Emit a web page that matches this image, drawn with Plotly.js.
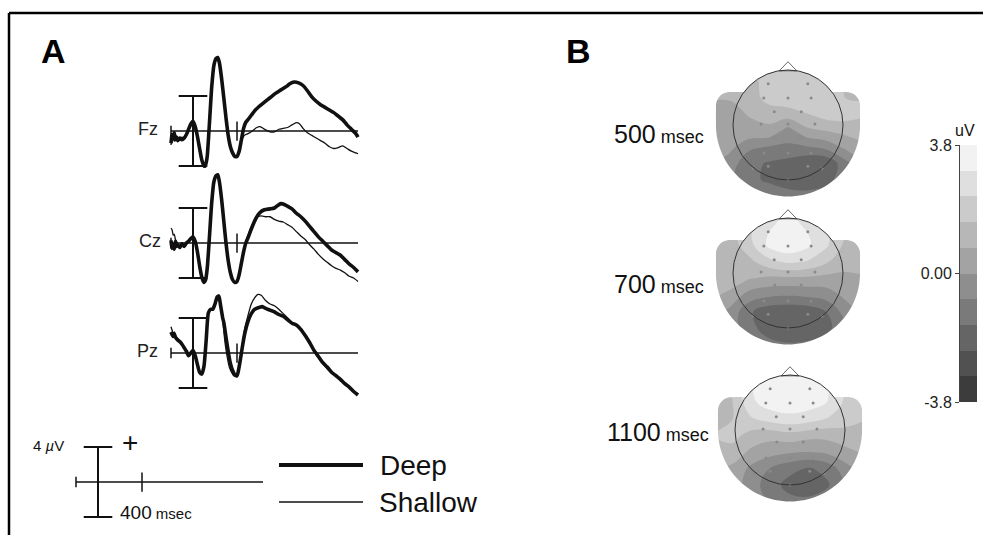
<!DOCTYPE html>
<html><head><meta charset="utf-8">
<script src="https://cdn.plot.ly/plotly-3.0.1.min.js"></script>
<style>html,body{margin:0;padding:0;background:#fff;} #chart{width:983px;height:535px;}</style>
</head><body><div id="chart"></div>
<script>
// ---------------- Panel A: ERP waveforms (time in ms, amplitude in µV) ----------------
const T_FZ_DEEP = [-200,-190,-180,-170,-160,-150,-140,-120,-100,-80,-60,-40,-20,0,20,40,60,80,100,110,120,130,150,170,190,210,225,240,260,280,300,320,340,360,380,400,420,440,460,480,500,530,560,600,650,700,750,800,850,880,920,960,1000,1040,1080,1120,1160,1200,1240,1280,1320,1360,1400,1440,1480,1500];
const V_FZ_DEEP = [-1.4,-0.4,-0.9,-0.2,-1.0,-0.7,-1.1,-0.8,-1.0,-0.8,-0.4,0.2,0.8,1.1,0.5,-0.6,-2.0,-3.3,-4.0,-4.0,-3.6,-2.8,1.0,5.0,7.5,8.3,8.4,7.8,6.0,3.8,1.5,-0.5,-1.8,-2.5,-2.9,-2.9,-2.3,-1.0,0.3,1.0,1.3,1.8,2.3,2.8,3.3,3.8,4.3,4.7,5.1,5.4,5.6,5.5,5.2,4.6,3.9,3.4,3.0,2.7,2.4,2.1,1.7,1.3,0.7,0.2,-0.3,-0.7];
const T_FZ_SHALLOW = [-200,-190,-180,-170,-160,-150,-140,-120,-100,-80,-60,-40,-20,0,20,40,60,80,100,110,120,130,150,170,190,210,225,240,260,280,300,320,340,360,380,400,420,440,460,480,500,540,580,610,650,700,740,780,820,860,900,940,970,1000,1040,1080,1120,1160,1200,1240,1280,1320,1360,1400,1440,1480,1500];
const V_FZ_SHALLOW = [-1.6,-0.8,-0.6,-1.2,-0.5,-1.0,-0.8,-1.1,-0.7,-0.9,-0.5,0.1,0.6,1.0,0.6,-0.5,-1.9,-3.2,-3.9,-4.0,-3.7,-2.9,0.8,4.8,7.4,8.2,8.3,7.6,5.8,3.6,1.3,-0.7,-2.0,-2.7,-3.0,-2.9,-2.2,-1.2,-0.6,-0.4,-0.3,0.0,0.4,0.5,0.2,-0.1,-0.1,0.2,0.3,0.4,0.7,0.95,0.8,0.3,-0.2,-0.5,-0.8,-1.1,-1.4,-1.8,-2.0,-1.9,-1.7,-2.0,-2.3,-2.5,-2.6];

const T_CZ_DEEP = [-200,-190,-180,-170,-160,-150,-140,-120,-100,-80,-60,-40,-20,0,20,40,60,80,100,115,130,150,170,190,210,225,240,260,280,300,320,340,360,380,400,420,440,460,480,500,530,560,590,620,650,700,740,770,800,830,860,900,940,980,1020,1060,1100,1140,1180,1220,1260,1300,1340,1380,1420,1460,1500];
const V_CZ_DEEP = [0.3,-0.6,-0.2,-0.7,0.2,-0.4,-0.2,-0.5,-0.1,-0.4,0.0,0.2,0.5,0.7,0.2,-1.0,-2.6,-3.9,-4.5,-4.2,-2.8,0.8,4.6,7.0,7.7,7.8,7.0,5.0,2.5,0.0,-2.0,-3.4,-4.2,-4.5,-4.4,-3.6,-2.3,-1.0,0.0,0.6,1.6,2.5,3.2,3.6,3.8,3.9,4.0,4.3,4.5,4.4,4.2,3.9,3.4,3.0,2.5,1.9,1.3,0.7,0.2,-0.3,-0.8,-1.1,-1.4,-1.9,-2.4,-2.8,-3.3];
const T_CZ_SHALLOW = [-200,-190,-180,-170,-160,-150,-140,-120,-100,-80,-60,-40,-20,0,20,40,60,80,100,115,130,150,170,190,210,225,240,260,280,300,320,340,360,380,400,420,440,460,480,500,530,560,590,620,660,700,740,780,820,860,900,940,980,1020,1060,1100,1140,1180,1220,1260,1300,1340,1380,1420,1460,1500];
const V_CZ_SHALLOW = [1.7,1.5,0.9,1.0,0.4,0.2,-0.1,-0.4,0.0,-0.3,-0.1,0.1,0.4,0.6,0.1,-1.1,-2.7,-4.0,-4.5,-4.1,-2.7,0.9,4.6,6.9,7.6,7.7,6.9,4.9,2.4,-0.1,-2.1,-3.5,-4.2,-4.5,-4.3,-3.5,-2.1,-0.8,0.2,0.9,1.8,2.6,3.0,3.1,3.0,3.0,2.7,2.5,2.4,2.1,1.8,1.3,0.8,0.4,-0.2,-0.7,-1.3,-1.8,-2.2,-2.6,-2.9,-3.1,-3.4,-3.8,-4.0,-4.4];

const T_PZ_DEEP = [-200,-190,-180,-170,-160,-140,-120,-100,-80,-60,-40,-20,0,20,40,60,80,100,120,140,160,180,200,220,235,250,270,280,300,320,340,360,380,400,410,430,450,470,500,530,560,600,630,660,700,740,780,820,860,900,940,980,1020,1060,1100,1140,1180,1220,1260,1300,1340,1380,1420,1460,1500];
const V_PZ_DEEP = [2.4,2.1,1.9,2.2,1.8,1.5,1.3,1.0,0.6,0.2,-0.3,0.0,0.3,-0.3,-1.3,-2.2,-2.4,-1.5,1.5,4.6,5.0,5.0,5.6,6.4,6.5,5.5,4.0,3.5,1.8,0.2,-1.2,-2.0,-2.5,-2.6,-2.2,-0.8,0.8,2.2,3.6,4.5,5.0,5.2,5.3,5.1,4.9,4.7,4.4,4.2,3.8,3.4,3.2,2.7,2.0,1.2,0.3,-0.4,-1.1,-1.6,-2.2,-2.6,-3.0,-3.5,-3.9,-4.4,-4.8];
const T_PZ_SHALLOW = [-200,-190,-180,-170,-160,-140,-120,-100,-80,-60,-40,-20,0,20,40,60,80,100,120,140,160,180,200,220,235,250,270,290,310,330,350,370,390,410,430,450,470,500,530,560,590,620,660,700,740,780,820,860,900,940,980,1020,1060,1100,1140,1180,1220,1260,1300,1340,1380,1420,1460,1500];
const V_PZ_SHALLOW = [3.0,2.6,2.2,2.4,2.0,1.7,1.3,0.9,0.5,0.1,-0.4,-0.1,0.2,-0.4,-1.4,-2.3,-2.5,-1.6,1.4,4.5,4.9,5.0,5.7,6.5,6.6,5.6,3.8,1.3,-0.4,-1.6,-2.2,-2.6,-2.6,-2.1,-0.6,1.1,2.8,4.3,5.6,6.3,6.7,6.6,6.0,5.6,5.4,5.0,4.5,4.0,3.5,3.1,2.6,1.9,1.1,0.3,-0.5,-1.2,-1.8,-2.3,-2.6,-3.2,-3.4,-3.9,-4.3,-4.7];

const CHANNELS = ['Fz','Cz','Pz'];
const CONDITIONS = ['Deep','Shallow'];
const EPOCH = [-200, 1500];      // ms
const SCALE_UV = 4;              // µV scale bar
const SCALE_MS = 400;            // ms tick

// ---------------- Panel B: scalp maps (µV), grid in head-radius units ----------------
const MAP_TIMES = ['500','700','1100'];
const GRID_X = [-1.4,-1.05,-0.7,-0.35,0,0.35,0.7,1.05,1.4];
const GRID_Y = [1.1,0.8,0.5,0.2,-0.1,-0.4,-0.7,-1.0,-1.35];   // top row first
const MAP_500 = [
  [1.2,1.2,1.5,1.9,1.9,1.9,1.9,1.5,1.5],
  [1.0,1.0,1.2,1.9,2.0,2.0,1.9,1.5,1.5],
  [0.8,0.8,1.0,1.9,2.0,2.0,1.9,1.5,1.5],
  [0.6,0.6,0.8,1.0,1.2,1.5,1.9,1.9,1.6],
  [0.5,0.5,0.6,0.6,-0.3,0.6,0.8,1.0,1.2],
  [0.4,0.2,-0.6,-0.8,-0.9,-0.8,-0.5,0.2,0.6],
  [0.2,-0.4,-1.3,-1.6,-1.8,-2.2,-2.2,-1.0,0.0],
  [0.0,-0.6,-1.4,-1.6,-1.8,-2.0,-1.8,-1.0,-0.2],
  [0.0,-0.4,-0.9,-1.1,-1.2,-1.1,-0.9,-0.6,-0.2]
];
const MAP_700 = [
  [1.5,1.5,2.2,2.8,3.0,2.8,2.2,1.5,1.2],
  [1.2,1.3,2.2,3.0,3.3,3.0,2.4,1.5,1.2],
  [1.0,1.1,2.0,3.2,3.6,3.2,2.4,1.3,1.2],
  [0.9,1.0,1.3,2.0,2.4,2.2,1.6,1.0,1.0],
  [1.4,1.3,0.8,0.6,0.6,0.6,0.5,0.6,0.7],
  [1.0,0.5,-0.3,-0.6,-0.7,-0.6,-0.4,0.2,0.5],
  [0.5,-0.2,-1.4,-2.0,-2.1,-2.0,-1.5,-0.4,0.3],
  [0.3,-0.4,-1.2,-2.0,-2.2,-2.2,-1.8,-0.8,0.0],
  [0.2,-0.2,-0.8,-1.1,-1.3,-1.2,-0.9,-0.5,0.0]
];
const MAP_1100 = [
  [1.8,2.0,2.8,3.3,3.4,3.3,2.8,2.0,1.8],
  [1.5,1.6,3.0,3.5,3.6,3.5,3.1,2.0,1.7],
  [1.3,1.5,2.9,3.4,3.5,3.4,3.0,2.0,1.6],
  [1.2,1.5,2.2,2.6,2.8,2.6,2.2,1.8,1.5],
  [1.5,1.8,1.2,1.0,1.2,1.0,1.0,1.2,1.2],
  [1.2,1.2,0.6,0.3,0.1,0.0,0.2,0.6,0.9],
  [0.8,0.6,-0.2,-0.8,-1.3,-1.6,-1.2,-0.2,0.5],
  [0.6,0.4,-0.4,-1.2,-1.8,-2.0,-1.6,-0.5,0.3],
  [0.5,0.3,-0.2,-0.8,-1.2,-1.2,-0.9,-0.3,0.2]
];
const ELEC_X = [-0.36,0.36,-0.44,0,0.42,-0.25,0.24,-0.49,0,0.49,-0.24,0.24,-0.44,0,0.42,-0.36,0.36,-0.64,0.62,0,0];
const ELEC_Y = [0.75,0.75,0.49,0.49,0.49,0.24,0.24,0.02,0.02,0.02,-0.22,-0.22,-0.51,-0.51,-0.51,-0.75,-0.75,-0.78,-0.78,-1.0,-1.31];

// colour bar
const CBAR_MIN = -3.8, CBAR_MAX = 3.8, CBAR_BANDS = 10;
const CBAR_TICKS = [3.8, 0, -3.8];
const CBAR_TICKTEXT = ['3.8','0.00','-3.8'];
const GRAYS = ['#3c3c3c','#515151','#656565','#7a7a7a','#8e8e8e','#a3a3a3','#b7b7b7','#cbcbcb','#dfdfdf','#f2f2f2'];

// ---------------- geometry helpers ----------------
const W = 983, H = 535;
const FONT = 'Liberation Sans, Arial, sans-serif';
const PX_PER_MS = 0.11, PX_PER_UV = 8.75;
function xdomT(zeroPx){ return [(zeroPx - 400*PX_PER_MS)/W, (zeroPx + 1700*PX_PER_MS)/W]; }
function ydomV(basePx){ return [1 - (basePx + 6*PX_PER_UV)/H, 1 - (basePx - 10*PX_PER_UV)/H]; }

const traces = [];
const shapes = [];
const annotations = [];
const layout = {
  width: W, height: H, margin: {l:0,r:0,t:0,b:0},
  paper_bgcolor: '#fff', plot_bgcolor: 'rgba(0,0,0,0)', showlegend: false,
  font: {family: FONT, color: '#111'}
};
function hideAxis(extra){ return Object.assign({visible:false, fixedrange:true, showgrid:false, zeroline:false}, extra); }

// waveform axes
layout.xaxis = hideAxis({domain: xdomT(193), range: [-400, 1700], anchor: 'y'});
const CH_BASE = [131, 243, 353];
const CH_YA = ['y','y2','y3'];
const CH_LABX = [160, 163, 160];
const SERIES = {
  Fz: {Deep: [T_FZ_DEEP, V_FZ_DEEP], Shallow: [T_FZ_SHALLOW, V_FZ_SHALLOW]},
  Cz: {Deep: [T_CZ_DEEP, V_CZ_DEEP], Shallow: [T_CZ_SHALLOW, V_CZ_SHALLOW]},
  Pz: {Deep: [T_PZ_DEEP, V_PZ_DEEP], Shallow: [T_PZ_SHALLOW, V_PZ_SHALLOW]}
};
function refFrame(xa, ya){
  const L = (x0,y0,x1,y1,w) => shapes.push({type:'line', xref:xa, yref:ya, x0, y0, x1, y1, line:{color:'#111', width:w}});
  L(EPOCH[0], 0, EPOCH[1], 0, 1.5);
  L(EPOCH[0], -0.6, EPOCH[0], 0.6, 1.5);
  L(0, -SCALE_UV, 0, SCALE_UV, 2);
  L(-130, SCALE_UV, 130, SCALE_UV, 2);
  L(-130, -SCALE_UV, 130, -SCALE_UV, 2);
  L(SCALE_MS, -1.1, SCALE_MS, 1.1, 1.5);
}
CHANNELS.forEach((ch, i) => {
  const ya = CH_YA[i];
  const key = i === 0 ? 'yaxis' : 'yaxis' + (i+1);
  layout[key] = hideAxis({domain: ydomV(CH_BASE[i]), range: [-6, 10], anchor: 'x'});
  refFrame('x', ya);
  CONDITIONS.forEach(cond => {
    const [t, v] = SERIES[ch][cond];
    traces.push({type:'scatter', mode:'lines', x:t, y:v, xaxis:'x', yaxis:ya, hoverinfo:'skip',
      line:{color:'#111', width: cond === 'Deep' ? 3.6 : 1.3, shape:'spline', smoothing:0.6}});
  });
  annotations.push({xref:'paper', yref:'paper', x:CH_LABX[i]/W, y:1-(CH_BASE[i]-2)/H, xanchor:'right', yanchor:'middle',
    text: ch, showarrow:false, font:{size:18, color:'#222', family:FONT}});
});

// scale/legend frame (panel A, bottom)
layout.xaxis2 = hideAxis({domain: xdomT(98), range: [-400, 1700], anchor: 'y4'});
layout.yaxis4 = hideAxis({domain: ydomV(482), range: [-6, 10], anchor: 'x2'});
refFrame('x2', 'y4');
// legend samples
shapes.push({type:'line', xref:'paper', yref:'paper', x0:279/W, x1:363/W, y0:1-465/H, y1:1-465/H, line:{color:'#111', width:4}});
shapes.push({type:'line', xref:'paper', yref:'paper', x0:279/W, x1:363/W, y0:1-502/H, y1:1-502/H, line:{color:'#111', width:1.5}});
function ann(x, y, text, size, xanchor, extra){
  annotations.push(Object.assign({xref:'paper', yref:'paper', x:x/W, y:1-y/H, xanchor:xanchor||'center', yanchor:'middle',
    text, showarrow:false, font:{size, color:'#111', family:FONT}}, extra||{}));
}
ann(378, 465, CONDITIONS[0], 28, 'left');
ann(377, 502, CONDITIONS[1], 28, 'left');
ann(48, 445, '4 <i>µ</i>V', 15, 'center');
ann(130, 442, '+', 28, 'center');
ann(118, 512, '<span style="font-size:19px">' + SCALE_MS + '</span> msec', 15, 'left');

// panel letters
ann(53, 51, '<b>A</b>', 34, 'center', {font:{size:34, color:'#000', family:'Liberation Sans, Arial, sans-serif'}});
ann(578, 51, '<b>B</b>', 34, 'center', {font:{size:34, color:'#000', family:'Liberation Sans, Arial, sans-serif'}});

// ---------------- head maps ----------------
const colorscale = GRAYS.map((c, k) => [k/(GRAYS.length-1), c]);
const bandSize = (CBAR_MAX - CBAR_MIN) / CBAR_BANDS;
function silhouette(){
  const pts = [];
  const a1 = Math.atan2(0.6, -0.8), a2 = Math.atan2(0.6, 0.8);
  for (let k=0;k<=40;k++){ const a = a1 + (a2-a1)*k/40; pts.push([Math.cos(a), Math.sin(a)]); }
  const R = 1.31, cr = 0.25;
  for (let k=0;k<=10;k++){ const a = Math.PI/2 - (Math.PI/2)*k/10; pts.push([R-cr+cr*Math.cos(a), 0.6-cr+cr*Math.sin(a)]); }
  for (let k=0;k<=60;k++){ const a = -Math.PI*k/60; pts.push([R*Math.cos(a), 1.3*Math.sin(a)]); }
  for (let k=0;k<=10;k++){ const a = Math.PI - (Math.PI/2)*k/10; pts.push([-R+cr+cr*Math.cos(a), 0.6-cr+cr*Math.sin(a)]); }
  return pts;
}
const sil = silhouette();
const maskPath = 'M-4,-4 L4,-4 L4,4 L-4,4 Z M' + sil.map(p => p[0].toFixed(4) + ',' + p[1].toFixed(4)).join(' L') + ' Z';
const HEAD_C = [[788,125],[788,273],[790,430]];
const MAPS = [MAP_500, MAP_700, MAP_1100];
const LABEL_POS = [[706,134],[706,284],[711,432]];
const R_PX = 55;
const gy = GRID_Y.slice().reverse();
MAPS.forEach((m, i) => {
  const xa = 'x' + (3+i), ya = 'y' + (5+i);
  const [cx, cy] = HEAD_C[i];
  const xr = 1.45, yTop = 1.3, yBot = 1.4;
  layout['xaxis' + (3+i)] = hideAxis({domain:[(cx - xr*R_PX)/W, (cx + xr*R_PX)/W], range:[-xr, xr], anchor: ya});
  layout['yaxis' + (5+i)] = hideAxis({domain:[1 - (cy + yBot*R_PX)/H, 1 - (cy - yTop*R_PX)/H], range:[-yBot, yTop], anchor: xa});
  traces.push({type:'contour', x:GRID_X, y:gy, z:m.slice().reverse(), xaxis:xa, yaxis:ya, hoverinfo:'skip',
    colorscale, showscale:false, line:{width:0, smoothing:1.1},
    contours:{start:CBAR_MIN + bandSize, end:CBAR_MAX - bandSize, size:bandSize, coloring:'fill', showlines:false}});
  traces.push({type:'scatter', mode:'markers', x:ELEC_X, y:ELEC_Y, xaxis:xa, yaxis:ya, hoverinfo:'skip',
    marker:{size:3, color:'#8a8a8a'}});
  shapes.push({type:'path', xref:xa, yref:ya, path:maskPath, fillrule:'evenodd', fillcolor:'#fff', line:{width:0}, layer:'above'});
  shapes.push({type:'path', xref:xa, yref:ya, path:'M-0.16,0.985 L0,1.15 L0.16,0.985 Z', fillcolor:'#fff', line:{color:'#666', width:1}, layer:'above'});
  shapes.push({type:'circle', xref:xa, yref:ya, x0:-1, x1:1, y0:-1, y1:1, line:{color:'#333', width:1}, layer:'above'});
  ann(LABEL_POS[i][0], LABEL_POS[i][1], '<span style="font-size:25px">' + MAP_TIMES[i] + '</span> msec', 18, 'right');
});

// colour bar drawn as a heatmap of the band values
const bandCenters = GRAYS.map((_, k) => CBAR_MIN + bandSize*(k+0.5));
traces.push({type:'heatmap', x:[0], y:bandCenters, z:bandCenters.map(v => [v]), xaxis:'x6', yaxis:'y8',
  colorscale, zmin: bandCenters[0], zmax: bandCenters[bandCenters.length-1], showscale:false, hoverinfo:'skip'});
layout.xaxis6 = hideAxis({domain:[960/W, 977/W], range:[-0.5, 0.5], anchor:'y8'});
layout.yaxis8 = {domain:[1 - 402/H, 1 - 145/H], range:[CBAR_MIN, CBAR_MAX], anchor:'x6', side:'left', fixedrange:true,
  showgrid:false, zeroline:false, showline:true, linecolor:'#444', linewidth:1, ticks:'outside', ticklen:4, tickcolor:'#444',
  tickvals:CBAR_TICKS, ticktext:CBAR_TICKTEXT, tickfont:{size:16, color:'#222', family:FONT}};
ann(965, 130, 'uV', 16, 'center');

// figure border (top and left)
shapes.push({type:'line', xref:'paper', yref:'paper', x0:9/W, x1:1, y0:1-13/H, y1:1-13/H, line:{color:'#000', width:2.5}});
shapes.push({type:'line', xref:'paper', yref:'paper', x0:9/W, x1:9/W, y0:1-13/H, y1:0, line:{color:'#000', width:2.5}});

layout.shapes = shapes;
layout.annotations = annotations;
Plotly.newPlot('chart', traces, layout, {staticPlot:true, displayModeBar:false});
</script>
</body></html>
